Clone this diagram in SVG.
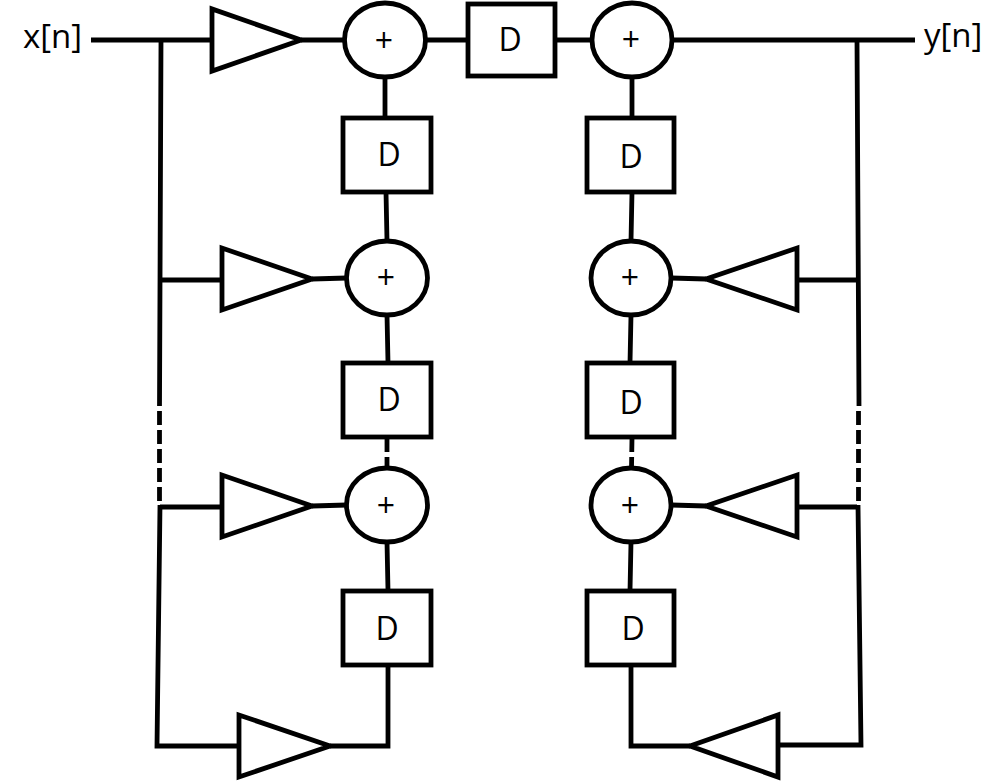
<svg xmlns="http://www.w3.org/2000/svg" width="1007" height="782" viewBox="0 0 1007 782">
<style>
.s{fill:#fff;stroke:#000;stroke-width:4.800}
.l{fill:none;stroke:#000;stroke-width:4.800}
.d{fill:none;stroke:#000;stroke-width:4.800;stroke-dasharray:14 5}
text{font-family:"Open Sans","Noto Sans","Liberation Sans",sans-serif;fill:#000}
.b{font-size:32px;text-anchor:middle}
.p{font-size:32px;text-anchor:middle}
.t{font-size:33px}
</style>
<rect width="1007" height="782" fill="#fff"/>
<g id="connectors">
<path class="l" d="M91 40H212M301 40H345M425 40H468M555 40H593M672 40H915"/>
<path class="l" d="M385 76V118M386 192L387 241M387 315L388 363M387 542L388 591"/>
<path class="l" d="M632 76V118M632 192L631 241M631 315L630 363M631 542L630 591"/>
<path class="l" d="M161 40L159.500 406M160 280H222M312 279L347 278"/>
<path class="l" d="M160 507H222M312 506L347 505M160 505L157 746H239M330 746H388V664"/>
<path class="l" d="M857 40L859 406M857 280H797M706 279L671 278"/>
<path class="l" d="M857 507H797M706 506L671 505M858 505L861 745H778M690 746H631V664"/>
<path class="d" d="M159.500 411V503"/>
<path class="d" d="M858.500 411V503"/>
<path class="d" d="M387 438V468"/>
<path class="d" d="M632 438L631.500 468"/>
</g>
<g id="input"><text class="t" x="23" y="48">x[n]</text></g>
<g id="output"><text class="t" x="924" y="47">y[n]</text></g>
<g id="gain-l1"><polygon class="s" points="212,9 212,71 301,40"/></g>
<g id="gain-l2"><polygon class="s" points="222,248 222,310 312,279"/></g>
<g id="gain-l3"><polygon class="s" points="222,475 222,537 312,506"/></g>
<g id="gain-l4"><polygon class="s" points="239,715 239,777 330,746"/></g>
<g id="gain-r2"><polygon class="s" points="797,248 797,310 706,279"/></g>
<g id="gain-r3"><polygon class="s" points="797,475 797,537 706,506"/></g>
<g id="gain-r4"><polygon class="s" points="778,715 778,777 690,746"/></g>
<g id="sum-l1"><ellipse class="s" cx="385" cy="40" rx="40.500" ry="37"/><text class="p" x="384" y="52">+</text></g>
<g id="sum-l2"><ellipse class="s" cx="387" cy="278" rx="40.500" ry="37"/><text class="p" x="386" y="289">+</text></g>
<g id="sum-l3"><ellipse class="s" cx="387" cy="505" rx="40.500" ry="37"/><text class="p" x="386" y="517">+</text></g>
<g id="sum-r1"><ellipse class="s" cx="632" cy="40" rx="40" ry="37"/><text class="p" x="631" y="51">+</text></g>
<g id="sum-r2"><ellipse class="s" cx="631" cy="278" rx="40" ry="37"/><text class="p" x="630" y="289">+</text></g>
<g id="sum-r3"><ellipse class="s" cx="631" cy="505" rx="40" ry="37"/><text class="p" x="630" y="517">+</text></g>
<g id="delay-top"><rect class="s" x="468" y="4" width="87" height="72"/><text class="b" x="510" y="51">D</text></g>
<g id="delay-l1"><rect class="s" x="343" y="118" width="88" height="74"/><text class="b" x="389" y="166">D</text></g>
<g id="delay-l2"><rect class="s" x="343" y="363" width="88" height="74"/><text class="b" x="389" y="411">D</text></g>
<g id="delay-l3"><rect class="s" x="343" y="591" width="88" height="74"/><text class="b" x="387" y="640">D</text></g>
<g id="delay-r1"><rect class="s" x="587" y="118" width="87" height="74"/><text class="b" x="631" y="168">D</text></g>
<g id="delay-r2"><rect class="s" x="587" y="363" width="87" height="74"/><text class="b" x="631" y="414">D</text></g>
<g id="delay-r3"><rect class="s" x="587" y="591" width="87" height="74"/><text class="b" x="633" y="640">D</text></g>
</svg>
